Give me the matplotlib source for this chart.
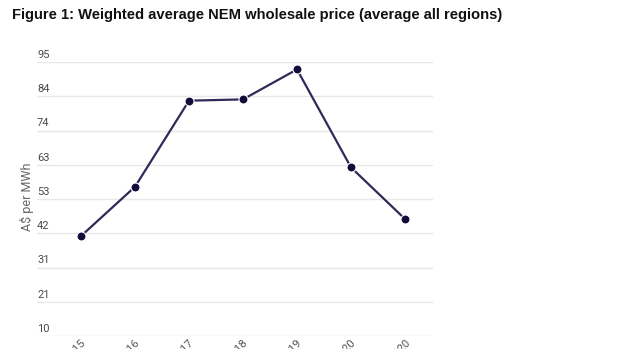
import matplotlib
matplotlib.use("Agg")
import matplotlib.pyplot as plt
import numpy as np

years = ["2014-15", "2015-16", "2016-17", "2017-18", "2018-19", "2019-20", "YTD 2020"]
prices = [41.0, 56.3, 83.0, 83.4, 92.7, 62.3, 46.3]
ytick_vals = list(np.linspace(10, 95, 9))
ytick_labels = ["10", "21", "31", "42", "53", "63", "74", "84", "95"]

fig = plt.figure(figsize=(6.2, 3.49), dpi=100)
fig.text(12/620, 1 - 15/349, "Figure 1: Weighted average NEM wholesale price (average all regions)",
         fontsize=10.6, fontweight="bold", family=["Liberation Sans", "DejaVu Sans"],
         va="center", ha="left", color="#111111")

ax = fig.add_axes([37/620, 13/349, 396/620, 274/349])
x = np.arange(len(years))
ax.plot(x, prices, color="#2e2a58", lw=1.6, marker="o", markersize=6.5,
        markerfacecolor="#120c3a", markeredgecolor="white", markeredgewidth=0.8,
        zorder=3, clip_on=False)
ax.set_xlim(-44/54, 6 + 28/54)
ax.set_ylim(10, 95)
for v in ytick_vals:
    ax.axhline(v, color="#e8e8e8", lw=1.0, zorder=1)
ax.set_yticks([])
for v, lab in zip(ytick_vals, ytick_labels):
    ax.annotate(lab, xy=(0, v), xycoords=ax.get_yaxis_transform(),
                xytext=(0, 1.5), textcoords="offset points", ha="left", va="bottom",
                fontsize=8, color="#4a4a4a", family=["Roboto", "DejaVu Sans"])
ax.set_xticks(x)
ax.set_xticklabels(years, rotation=45, ha="right", rotation_mode="anchor",
                   fontsize=8, color="#555555", family=["Roboto", "DejaVu Sans"])
ax.tick_params(axis="x", length=0, pad=1.5)
for s in ax.spines.values():
    s.set_visible(False)
fig.text(27/620, 1 - 197/349, "A$ per MWh", rotation=90, ha="center", va="center",
         fontsize=9, color="#666666", family=["Roboto", "DejaVu Sans"])

fig.savefig("out.png", dpi=100)
